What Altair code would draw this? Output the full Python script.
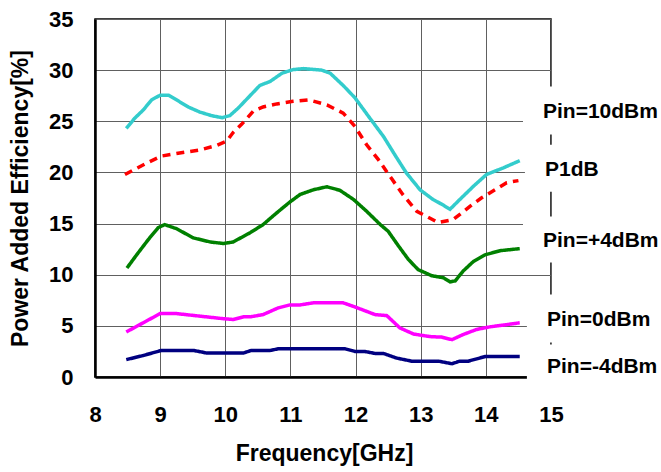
import altair as alt
import pandas as pd

# ---- data ----
names = ["Pin=10dBm", "P1dB", "Pin=+4dBm", "Pin=0dBm", "Pin=-4dBm"]
colors = ["#33CCCC", "#FF0000", "#008000", "#FF00FF", "#000080"]

cyan_f = [8.48, 8.61, 8.74, 8.87, 9.0, 9.13, 9.25, 9.43, 9.61, 9.79, 9.95, 10.07, 10.2, 10.35, 10.53,
          10.69, 10.87, 11.04, 11.2, 11.48, 11.61, 11.81, 11.99, 12.22, 12.43, 12.6, 12.78, 12.99,
          13.19, 13.32, 13.45, 13.6, 13.81, 14.01, 14.27, 14.52]
cyan_v = [24.3, 25.3, 26.1, 27.1, 27.55, 27.55, 27.1, 26.4, 25.9, 25.55, 25.35, 25.55, 26.3, 27.3, 28.5,
          28.9, 29.7, 30.05, 30.15, 30.0, 29.7, 28.5, 27.3, 25.3, 23.5, 21.75, 19.95, 18.3,
          17.35, 16.9, 16.4, 17.35, 18.65, 19.8, 20.45, 21.15]

red_f = [8.46, 8.79, 9.02, 9.3, 9.61, 9.87, 10.02, 10.12, 10.25, 10.43, 10.58, 10.79, 11.04, 11.28,
         11.56, 11.81, 11.99, 12.17, 12.35, 12.53, 12.73, 12.94, 13.27, 13.5, 13.76, 13.93, 14.32, 14.5]
red_v = [19.8, 20.9, 21.6, 21.9, 22.2, 22.65, 23.05, 23.9, 24.7, 26.0, 26.4, 26.7, 26.95, 27.1,
         26.6, 25.8, 24.5, 22.7, 21.25, 19.6, 17.8, 16.2, 15.1, 15.4, 16.7, 17.5, 19.0, 19.2]

green_f = [8.49, 8.64, 8.82, 8.97, 9.07, 9.25, 9.51, 9.77, 9.97, 10.12, 10.38, 10.58, 10.79, 10.99,
           11.15, 11.35, 11.56, 11.76, 11.97, 12.17, 12.38, 12.5, 12.66, 12.81, 12.96, 13.17, 13.35,
           13.45, 13.53, 13.65, 13.81, 13.99, 14.22, 14.52]
green_v = [10.65, 11.95, 13.45, 14.6, 14.9, 14.5, 13.6, 13.2, 13.05, 13.2, 14.1, 14.9, 16.05, 17.1,
           17.85, 18.3, 18.6, 18.25, 17.35, 16.2, 14.9, 14.25, 12.8, 11.5, 10.5, 9.9, 9.7,
           9.3, 9.4, 10.35, 11.3, 11.95, 12.35, 12.55]

magenta_f = [8.48, 8.74, 9.0, 9.25, 9.61, 9.97, 10.12, 10.28, 10.38, 10.58, 10.81, 10.99, 11.15, 11.35,
             11.81, 11.99, 12.3, 12.48, 12.68, 12.89, 13.14, 13.32, 13.48, 13.65, 13.86, 14.06, 14.32, 14.52]
magenta_v = [4.4, 5.3, 6.2, 6.2, 5.95, 5.7, 5.62, 5.88, 5.88, 6.1, 6.75, 7.05, 7.05, 7.25,
             7.25, 6.85, 6.1, 6.0, 4.8, 4.2, 3.95, 3.9, 3.65, 4.15, 4.65, 4.9, 5.12, 5.3]

navy_f = [8.48, 8.74, 9.02, 9.51, 9.71, 10.28, 10.4, 10.69, 10.81, 11.84, 11.99, 12.14, 12.3, 12.43,
          12.63, 12.86, 13.27, 13.48, 13.6, 13.73, 13.99, 14.52]
navy_v = [1.7, 2.1, 2.6, 2.6, 2.35, 2.35, 2.6, 2.6, 2.75, 2.75, 2.5, 2.5, 2.3, 2.3,
          1.85, 1.55, 1.55, 1.3, 1.55, 1.55, 2.0, 2.0]

x_ticks = [8, 9, 10, 11, 12, 13, 14, 15]
y_ticks = [0, 5, 10, 15, 20, 25, 30, 35]

# curve labels at the right and the white boxes behind them
label_text = ["Pin=10dBm", "P1dB", "Pin=+4dBm", "Pin=0dBm", "Pin=-4dBm"]
label_f = [14.877, 14.908, 14.877, 14.939, 14.939]
label_v = [25.86, 20.28, 13.25, 5.62, 0.93]
box_f1 = [14.57, 14.60, 14.57, 14.63, 14.63]
box_f2 = [15.4, 15.4, 15.4, 15.4, 15.4]
box_v1 = [28.4, 22.7, 15.7, 8.06, 3.18]
box_v2 = [23.7, 18.1, 11.2, 3.37, -0.6]

# ---- tables ----
series = [(names[0], cyan_f, cyan_v), (names[1], red_f, red_v), (names[2], green_f, green_v),
          (names[3], magenta_f, magenta_v), (names[4], navy_f, navy_v)]
rows = []
for name, fs, vs in series:
    for i, (f, v) in enumerate(zip(fs, vs)):
        rows.append({"series": name, "f": f, "v": v, "i": i})
df = pd.DataFrame(rows)

boxes = pd.DataFrame({"f": box_f1, "f2": box_f2, "v": box_v1, "v2": box_v2})
labels = pd.DataFrame({"f": label_f, "v": label_v, "label": label_text})

FONT = "Liberation Sans"

xscale = alt.Scale(domain=[8, 15], nice=False, zero=False)
yscale = alt.Scale(domain=[0, 35], nice=False)

x_axis = alt.Axis(values=x_ticks, labelPadding=44, labelBaseline="alphabetic", labelFlush=False,
                  labelOverlap=False, titleX=229, titleY=83, titleBaseline="alphabetic",
                  titleAlign="center", format="d")
y_axis = alt.Axis(values=y_ticks, labelPadding=22, labelFlush=False, labelOverlap=False,
                  titleX=-68, titleY=179, titleBaseline="alphabetic", titleAlign="center",
                  titleAngle=270, format="d")

X = alt.X("f:Q", scale=xscale, axis=x_axis, title="Frequency[GHz]")
Y = alt.Y("v:Q", scale=yscale, axis=y_axis, title="Power Added Efficiency[%]")

lines = alt.Chart(df).mark_line(strokeWidth=3.5, strokeCap="butt", clip=False).encode(
    x=X,
    y=Y,
    color=alt.Color("series:N", scale=alt.Scale(domain=names, range=colors), legend=None),
    strokeDash=alt.StrokeDash("series:N",
                              scale=alt.Scale(domain=names,
                                              range=[[1, 0], [8, 6], [1, 0], [1, 0], [1, 0]]),
                              legend=None),
    order="i:Q",
)

rects = alt.Chart(boxes).mark_rect(color="white", clip=False).encode(
    x=X, x2=alt.X2("f2:Q"), y=Y, y2=alt.Y2("v2:Q")
)

texts = alt.Chart(labels).mark_text(align="left", baseline="middle", font=FONT, fontWeight="bold",
                                    fontSize=21, color="black", clip=False).encode(
    x=X, y=Y, text="label:N"
)

chart = alt.layer(lines, rects, texts).properties(
    width=456, height=358,
    padding={"left": 95, "top": 19, "right": 110, "bottom": 95},
    autosize=alt.AutoSizeParams(type="none"),
    background="white",
).configure_view(
    stroke="black", strokeWidth=1.5
).configure_axis(
    grid=True, gridColor="#606060", gridWidth=1,
    domainColor="black", domainWidth=2.5,
    ticks=False, tickSize=0,
    labelFont=FONT, labelFontWeight="bold", labelFontSize=22, labelColor="black",
    titleFont=FONT, titleFontWeight="bold", titleFontSize=23, titleColor="black",
    zindex=0,
)

chart.save("out.html", embed_options={"renderer": "svg", "actions": False})
